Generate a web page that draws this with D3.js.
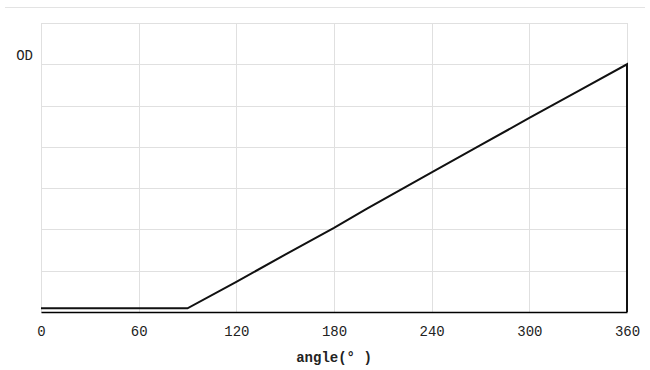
<!DOCTYPE html>
<html>
<head>
<meta charset="utf-8">
<script src="https://cdn.jsdelivr.net/npm/d3@7"></script>
<style>
	body { margin: 0; background: #fff; }
	text { font-family: "Liberation Mono", monospace; fill: #222; }
</style>
</head>
<body>
<div id="chart"></div>
<script>
// curve points: angle (deg) -> OD
var angles = [0, 90, 120, 150, 180, 200, 240, 270, 300, 330, 360, 360];
var odValues = [0.009, 0.009, 0.073, 0.139, 0.204, 0.25, 0.338, 0.404, 0.47, 0.535, 0.6, 0];
var xTicks = [0, 60, 120, 180, 240, 300, 360];
var yTicks = [0, 0.1, 0.2, 0.3, 0.4, 0.5, 0.6, 0.7];

var width = 650, height = 370;
var margin = { top: 23, right: 23, bottom: 58, left: 41 };
var innerW = width - margin.left - margin.right,
	innerH = height - margin.top - margin.bottom;

var svg = d3.select('#chart').append('svg')
	.attr('width', width)
	.attr('height', height);

// thin rule across the top
svg.append('line')
	.attr('x1', 5).attr('x2', 645)
	.attr('y1', 7.5).attr('y2', 7.5)
	.attr('stroke', '#e3e3e3');

var g = svg.append('g')
	.attr('transform', 'translate(' + margin.left + ',' + margin.top + ')');

var x = d3.scaleLinear().domain([0, 360]).range([0, innerW]);
var y = d3.scaleLinear().domain([0, 0.7]).range([innerH, 0]);

// grid
g.append('g')
	.selectAll('line.h')
	.data(yTicks)
	.enter().append('line')
	.attr('x1', 0).attr('x2', innerW)
	.attr('y1', function (d) { return Math.round(y(d)) + 0.5; })
	.attr('y2', function (d) { return Math.round(y(d)) + 0.5; })
	.attr('stroke', '#e0e0e0');
g.append('g')
	.selectAll('line.v')
	.data(xTicks)
	.enter().append('line')
	.attr('x1', function (d) { return Math.round(x(d)) + 0.5; })
	.attr('x2', function (d) { return Math.round(x(d)) + 0.5; })
	.attr('y1', 0).attr('y2', innerH)
	.attr('stroke', '#e0e0e0');

// x axis
var xAxis = d3.axisBottom(x)
	.tickValues(xTicks)
	.tickSize(0)
	.tickPadding(14);
var ax = g.append('g')
	.attr('transform', 'translate(0,' + innerH + ')')
	.call(xAxis);
ax.select('.domain').attr('stroke', '#000').attr('stroke-width', 1.5);
ax.selectAll('text')
	.style('font-size', '14px')
	.style('font-family', '"Liberation Mono", monospace')
	.attr('fill', '#222');

// curve
var data = angles.map(function (a, i) { return { a: a, v: odValues[i] }; });
var line = d3.line()
	.x(function (d) { return x(d.a); })
	.y(function (d) { return y(d.v); });
g.append('path')
	.datum(data)
	.attr('fill', 'none')
	.attr('stroke', '#111')
	.attr('stroke-width', 2)
	.attr('d', line);

// labels
svg.append('text')
	.attr('x', 33).attr('y', 56)
	.attr('text-anchor', 'end')
	.attr('dominant-baseline', 'middle')
	.style('font-size', '14px')
	.text('OD');

svg.append('text')
	.attr('x', margin.left + innerW / 2)
	.attr('y', 358)
	.attr('text-anchor', 'middle')
	.attr('dominant-baseline', 'middle')
	.style('font-size', '14px')
	.style('font-weight', 'bold')
	.text('angle(° )');
</script>
</body>
</html>
